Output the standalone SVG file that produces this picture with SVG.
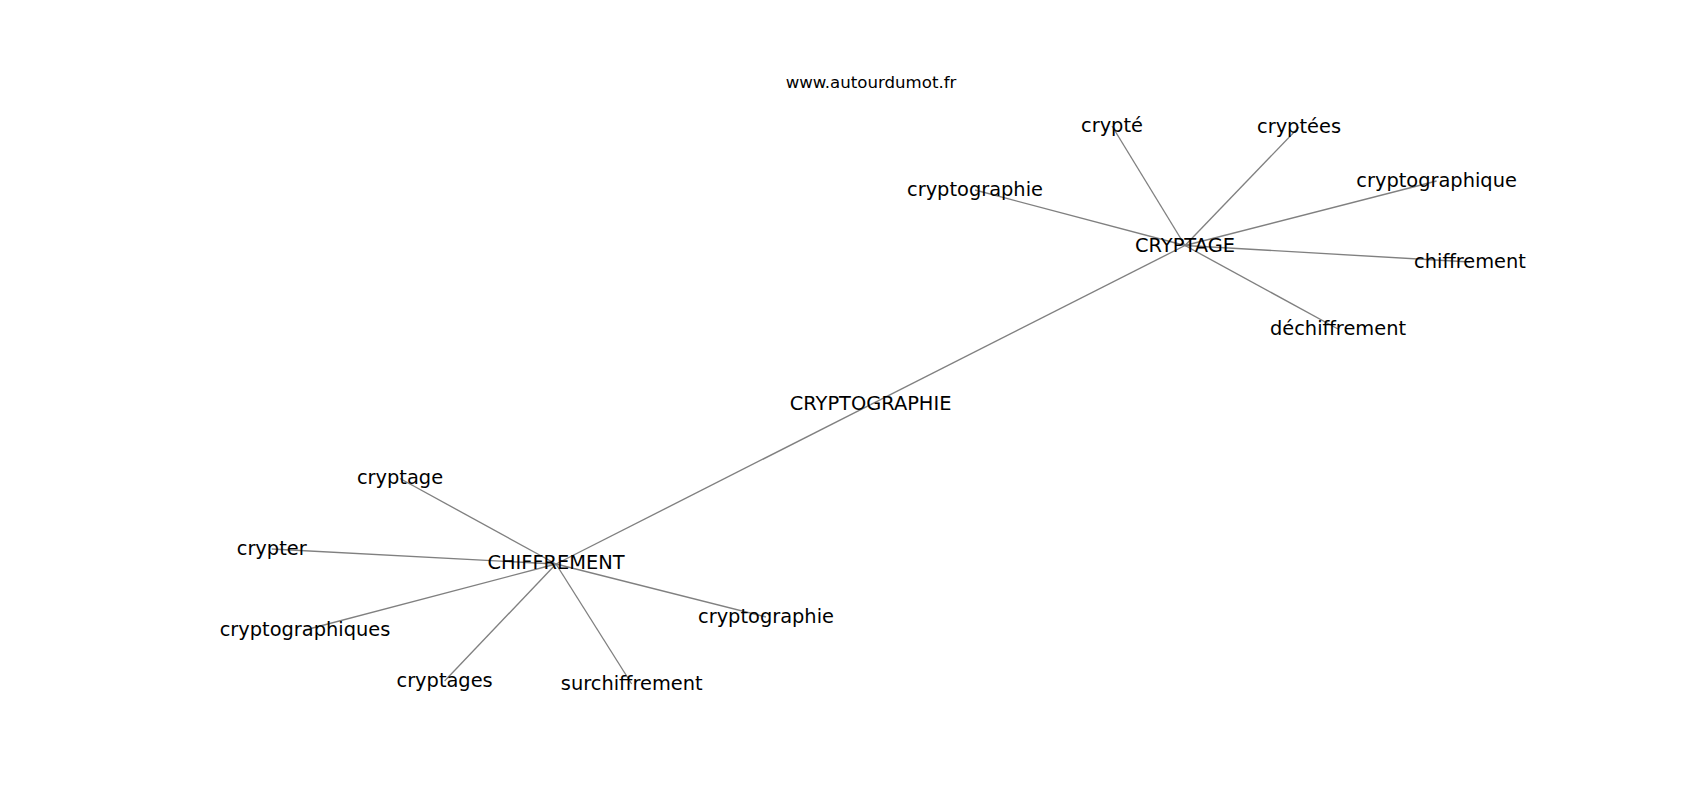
<svg xmlns="http://www.w3.org/2000/svg" width="1700" height="800" viewBox="0 0 1700 800">
<style>
.edge{stroke:#808080;stroke-width:1.35;fill:none}
.lbl{font-family:"DejaVu Sans",sans-serif;font-size:19.4px;fill:#000;text-anchor:middle}
.wm{font-family:"DejaVu Sans",sans-serif;font-size:16.6px;fill:#000;text-anchor:middle}
</style>
<rect width="1700" height="800" fill="#fff"/>
<g id="edges">
<line class="edge" x1="556" y1="564" x2="870.6" y2="404.6"/>
<line class="edge" x1="870.6" y1="404.6" x2="1185" y2="245.5"/>
<line class="edge" x1="1185" y1="245.5" x2="1112" y2="126"/>
<line class="edge" x1="1185" y1="245.5" x2="1299" y2="127"/>
<line class="edge" x1="1185" y1="245.5" x2="975" y2="190"/>
<line class="edge" x1="1185" y1="245.5" x2="1436.6" y2="181"/>
<line class="edge" x1="1185" y1="245.5" x2="1470" y2="262"/>
<line class="edge" x1="1185" y1="245.5" x2="1338" y2="329"/>
<line class="edge" x1="556" y1="564" x2="400" y2="478.5"/>
<line class="edge" x1="556" y1="564" x2="271.7" y2="549"/>
<line class="edge" x1="556" y1="564" x2="305" y2="630"/>
<line class="edge" x1="556" y1="564" x2="444.6" y2="681"/>
<line class="edge" x1="556" y1="564" x2="631.7" y2="684"/>
<line class="edge" x1="556" y1="564" x2="766" y2="617"/>
</g>
<g id="watermark"><text class="wm" x="871" y="88">www.autourdumot.fr</text></g>
<g id="n-CRYPTOGRAPHIE"><text class="lbl" x="870.6" y="410">CRYPTOGRAPHIE</text></g>
<g id="n-CRYPTAGE"><text class="lbl" x="1185" y="251.5">CRYPTAGE</text></g>
<g id="n-CHIFFREMENT"><text class="lbl" x="556" y="569">CHIFFREMENT</text></g>
<g id="n-crypte"><text class="lbl" x="1112" y="131.5">crypté</text></g>
<g id="n-cryptees"><text class="lbl" x="1299" y="132.5">cryptées</text></g>
<g id="n-cryptographie1"><text class="lbl" x="975" y="196">cryptographie</text></g>
<g id="n-cryptographique"><text class="lbl" x="1436.6" y="186.5">cryptographique</text></g>
<g id="n-chiffrement"><text class="lbl" x="1470" y="267.5">chiffrement</text></g>
<g id="n-dechiffrement"><text class="lbl" x="1338" y="335">déchiffrement</text></g>
<g id="n-cryptage"><text class="lbl" x="400" y="484">cryptage</text></g>
<g id="n-crypter"><text class="lbl" x="271.7" y="554.5">crypter</text></g>
<g id="n-cryptographiques"><text class="lbl" x="305" y="635.5">cryptographiques</text></g>
<g id="n-cryptages"><text class="lbl" x="444.6" y="687">cryptages</text></g>
<g id="n-surchiffrement"><text class="lbl" x="631.7" y="690">surchiffrement</text></g>
<g id="n-cryptographie2"><text class="lbl" x="766" y="622.5">cryptographie</text></g>
</svg>
